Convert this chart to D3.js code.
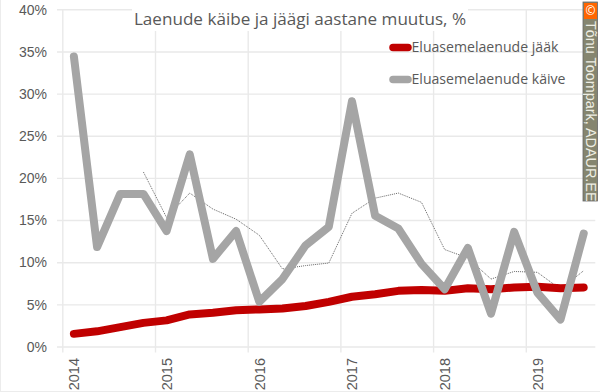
<!DOCTYPE html>
<html lang="et">

<head>
    <meta charset="UTF-8">
    <title>Laenude käibe ja jäägi aastane muutus</title>
    <script src="https://d3js.org/d3.v7.min.js"></script>
    <style>
        html, body { margin: 0; padding: 0; background: #fff; }
        svg { display: block; font-family: "Open Sans", sans-serif; }
    </style>
</head>

<body>
    <svg width="600" height="392"></svg>
    <script>
        // kvartalid 2014 Q1 - 2019 Q3
        var quarters = d3.range(23)
        var years = ['2014', '2015', '2016', '2017', '2018', '2019']
        var yTicks = [0, 5, 10, 15, 20, 25, 30, 35, 40]
        var jaak = [1.5, 1.8, 2.3, 2.8, 3.1, 3.8, 4.0, 4.3, 4.4, 4.5, 4.8, 5.3, 5.9, 6.2, 6.6, 6.7, 6.6, 6.9, 6.8, 7.0, 7.1, 6.9, 7.0]
        var kaive = [34.4, 11.8, 18.1, 18.1, 13.7, 22.8, 10.4, 13.7, 5.3, 8.0, 12.0, 14.2, 29.1, 15.5, 14.0, 9.8, 6.8, 11.7, 3.9, 13.6, 6.4, 3.2, 13.4]
        var kaiveKeskmine = [null, null, null, 20.7, 15.3, 18.2, 16.3, 15.1, 13.2, 9.2, 9.6, 9.9, 15.8, 17.6, 18.2, 17.1, 11.5, 10.5, 8.0, 8.9, 8.8, 6.8, 9.0]
        var legendNames = ['Eluasemelaenude jääk', 'Eluasemelaenude käive']
        var title = 'Laenude käibe ja jäägi aastane muutus, %'

        var svg = d3.select('svg')
        var gridColor = '#e9e9e9'
        var textColor = '#595959'

        var x = d3.scaleLinear().domain([0, 23]).range([62.3, 595.3])
        var y = d3.scaleLinear().domain([0, 40]).range([346.5, 9.3])

        // pildi raam
        svg.append('rect').attr('x', 0.5).attr('y', -2).attr('width', 603).attr('height', 393.5)
            .attr('fill', 'none').attr('stroke', '#ececec')

        // y telg koos ruudustikuga
        var axisY = d3.axisLeft(y).tickValues(yTicks).tickSize(533 + 5.3).tickPadding(9)
            .tickFormat(function (d) { return d + '%' })
        var gy = svg.append('g').attr('transform', 'translate(595.3,0)').call(axisY)
        gy.select('.domain').remove()
        gy.selectAll('.tick line').attr('stroke', gridColor).attr('stroke-width', 1.4)
        gy.selectAll('.tick text').attr('fill', textColor).style('font-size', '14px')
            .attr('x', -548.3).attr('dy', '0.34em')

        // x telg: kriips aasta alguses, silt esimese kvartali kohal
        var axisX = d3.axisBottom(x).tickValues(d3.range(0, 23, 4)).tickSize(-337.2)
            .tickFormat(function (d) { return years[d / 4] })
        var gx = svg.append('g').attr('transform', 'translate(0,346.5)').call(axisX)
        gx.select('.domain').remove()
        gx.selectAll('.tick line').attr('stroke', gridColor).attr('stroke-width', 1.4).attr('y2', -337.2)
        gx.selectAll('.tick').append('line').attr('y1', 0).attr('y2', 6)
            .attr('stroke', gridColor).attr('stroke-width', 1.4)
        gx.selectAll('.tick text').attr('fill', textColor).style('font-size', '14.5px')
            .attr('text-anchor', 'end').attr('dy', null).attr('y', null)
            .attr('transform', 'translate(' + (x(0.5) - x(0) + 5) + ',11.5) rotate(-90)')

        // pealkirja valge taust katab ruudustiku
        svg.append('rect').attr('x', 132).attr('y', 8).attr('width', 336).attr('height', 23).attr('fill', '#fff')
        svg.append('text').attr('x', 300).attr('y', 24.5).attr('text-anchor', 'middle')
            .attr('fill', textColor).style('font-size', '17.1px').text(title)

        function line(values) {
            return d3.line()
                .defined(function (d) { return values[d] !== null })
                .x(function (d) { return x(d + 0.5) })
                .y(function (d) { return y(values[d]) })(quarters)
        }

        svg.append('path').attr('d', line(kaiveKeskmine)).attr('fill', 'none')
            .attr('stroke', '#666').attr('stroke-width', 1).attr('stroke-dasharray', '1 1')
        svg.append('path').attr('d', line(jaak)).attr('fill', 'none')
            .attr('stroke', '#c00000').attr('stroke-width', 8)
            .attr('stroke-linecap', 'round').attr('stroke-linejoin', 'round')
        svg.append('path').attr('d', line(kaive)).attr('fill', 'none')
            .attr('stroke', '#a5a5a5').attr('stroke-width', 8)
            .attr('stroke-linecap', 'round').attr('stroke-linejoin', 'round')

        // legend
        var legendColors = ['#c00000', '#a5a5a5']
        var legend = svg.selectAll('.legend').data(legendNames).enter().append('g')
            .attr('transform', function (d, i) { return 'translate(0,' + (47.5 + i * 32) + ')' })
        legend.append('line').attr('x1', 393).attr('x2', 408).attr('y1', 0).attr('y2', 0)
            .attr('stroke', function (d, i) { return legendColors[i] }).attr('stroke-width', 7.5)
            .attr('stroke-linecap', 'round')
        legend.append('text').attr('x', 411.5).attr('dy', '0.34em')
            .attr('fill', textColor).style('font-size', '14.1px')
            .text(function (d) { return d })

        // autori märk paremal serval
        var mark = svg.append('g')
        mark.append('rect').attr('x', 583).attr('y', 2).attr('width', 14.5).attr('height', 199)
            .attr('fill', '#85856f').attr('stroke', '#666').attr('stroke-width', 0.8)
        mark.append('rect').attr('x', 584).attr('y', 3).attr('width', 13).attr('height', 16).attr('fill', '#ff6600')
        mark.append('text').attr('x', 590.5).attr('y', 11).attr('text-anchor', 'middle').attr('dy', '0.35em')
            .attr('fill', '#fff').style('font-size', '12px').text('©')
        mark.append('text').attr('transform', 'translate(586,21) rotate(90)')
            .attr('fill', '#eeeee4').style('font-family', '"Liberation Sans", sans-serif')
            .style('font-size', '14.4px').text('Tõnu Toompark, ADAUR.EE')
    </script>
</body>

</html>
